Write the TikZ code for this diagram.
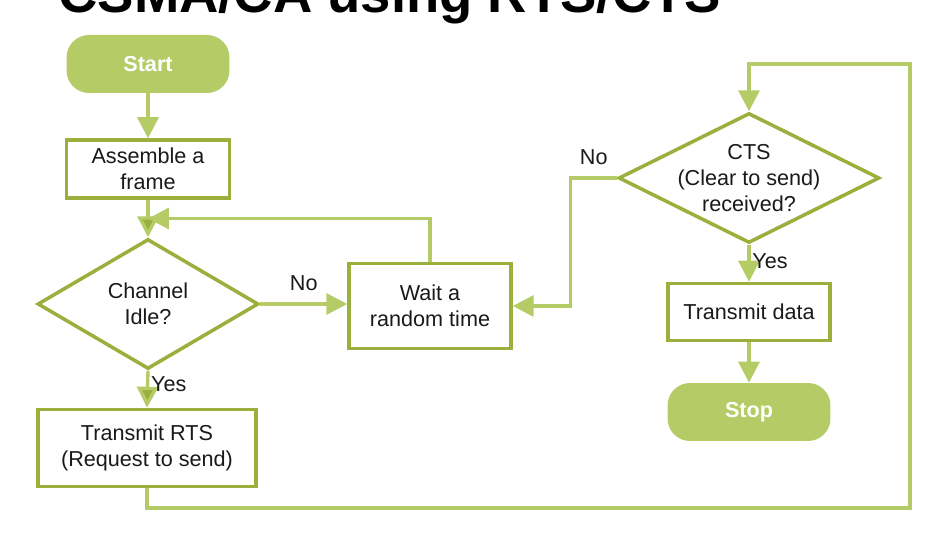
\documentclass[tikz,border=0pt]{standalone}
\usepackage{fontspec}
\setmainfont{Liberation Sans}
\usetikzlibrary{shapes.geometric,arrows.meta,calc}

\definecolor{termgreen}{RGB}{181,204,102}
\definecolor{boxgreen}{RGB}{155,175,60}
\definecolor{inktext}{RGB}{26,26,26}

\begin{document}
\begin{tikzpicture}[
    x=0.02cm, y=-0.02cm,
    every node/.style={font=\fontsize{12.3}{14.8}\selectfont, text=inktext},
    box/.style={draw=boxgreen, line width=2pt, fill=white, align=center,
      inner sep=2pt},
    term/.style={fill=termgreen, rounded corners=0.45cm, minimum width=3.26cm,
      minimum height=1.16cm, text=white, font=\fontsize{12.3}{14.8}\selectfont\bfseries},
    decision/.style={diamond, draw=boxgreen, line width=2pt, fill=white,
      align=center, inner sep=0pt},
    arrow/.style={-{Triangle[length=4.2mm,width=4.2mm]}, draw=termgreen,
      line width=1.9pt},
    arrowdark/.style={arrow, -{Triangle[length=4.2mm,width=4.2mm,fill=boxgreen]}},
    ]
    \path[use as bounding box, clip] (0,0) rectangle (946,536);

    % cut-off title
    \node[anchor=base west, inner sep=0pt,
      font=\fontsize{31}{31}\selectfont\bfseries, text=black]
      (title) at (58,13) {CSMA/CA using RTS/CTS};

    % left column
    \node[term] (start) at (148,64) {Start};
    \node[box, minimum width=3.26cm, minimum height=1.16cm]
      (assemble) at (148,169) {Assemble a\\frame};
    \node[decision, shape aspect=1.7, minimum width=4.42cm,
      minimum height=2.6cm] (idle) at (148,304) {Channel\\Idle?};
    \node[box, minimum width=4.36cm, minimum height=1.54cm]
      (rts) at (147,448) {Transmit RTS\\(Request to send)};

    % middle
    \node[box, minimum width=3.24cm, minimum height=1.7cm]
      (wait) at (430,306) {Wait a\\random time};

    % right column
    \node[decision, shape aspect=2, inner xsep=-0.4cm, minimum width=5.22cm,
      minimum height=2.6cm] (cts) at (749,178)
      {CTS\\(Clear to send)\\received?};
    \node[box, minimum width=3.24cm, minimum height=1.14cm]
      (data) at (749,312) {Transmit data};
    \node[term] (stop) at (749,412) {Stop};

    \coordinate (join) at ($(assemble.south)!0.5!(idle.north)$);
    \coordinate (loopbr) at (910,508);
    \coordinate (looptr) at (910,64);

    \draw[arrow] (start) -- (assemble);
    \draw[arrowdark] (assemble) -- (idle);
    \draw[arrow] (wait.north) |- (join);
    \draw[arrow] (idle.east) -- node[above=3pt] {No} (idle.east -| wait.west);
    \draw[arrowdark] (idle.south) -- node[right, pos=0.35, inner sep=1pt] {Yes}
      (rts.north);
    \draw[arrow] (rts.south) |- (loopbr) -- (looptr) -| (cts.north);
    \draw[arrow] (cts.west) -- node[above=3pt, pos=0.5] {No} ++(-46,0)
      |- (wait.east);
    \draw[arrow] (cts.south) -- node[right, pos=0.45, inner sep=1pt] {Yes}
      (data.north);
    \draw[arrow] (data) -- (stop);
\end{tikzpicture}
\end{document}
